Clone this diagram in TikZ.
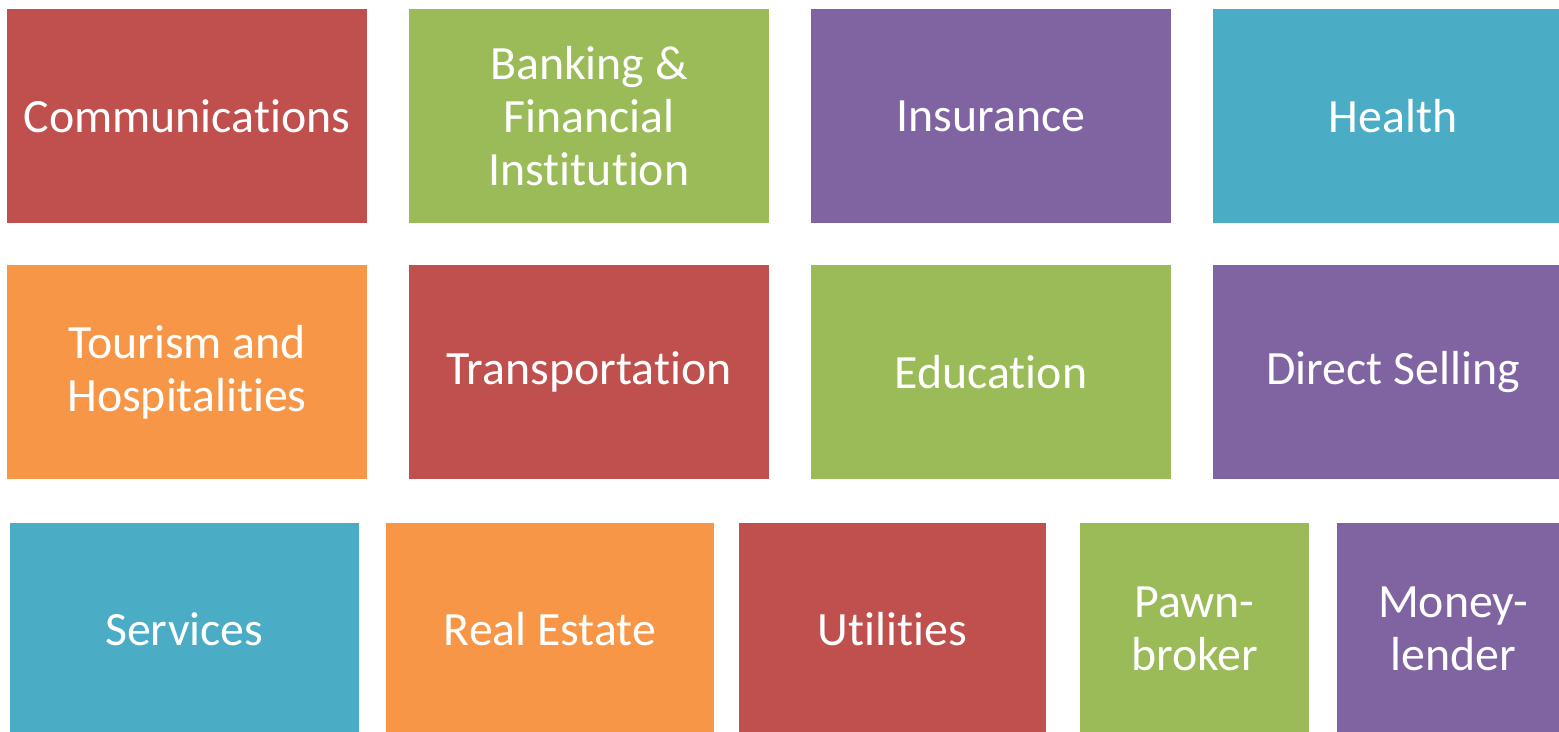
\documentclass[tikz,border=0pt]{standalone}
\usepackage{fontspec}
\setmainfont[Ligatures=NoCommon]{Carlito}
\definecolor{cRed}{HTML}{C0504D}
\definecolor{cGreen}{HTML}{9BBB59}
\definecolor{cPurple}{HTML}{8064A2}
\definecolor{cCyan}{HTML}{4BACC6}
\definecolor{cOrange}{HTML}{F79646}
\begin{document}
\begin{tikzpicture}[x=0.5pt,y=-0.5pt,
  tile/.style={inner sep=0pt, outer sep=0pt, draw=none, text=white, align=center,
    font=\fontsize{23.9}{26.3}\selectfont}]
\useasboundingbox (0,0) rectangle (1559,732);
\clip (0,0) rectangle (1559,732);
% row 1
\node[tile, fill=cRed, minimum width=180pt, minimum height=107pt] (comm) at (187,116) {Communications};
\node[tile, fill=cGreen, minimum width=180pt, minimum height=107pt] (bank) at (589,116) {Banking \&\\Financial\\Institution};
\node[tile, fill=cPurple, minimum width=180pt, minimum height=107pt] (ins) at (991,116) {Insurance};
\node[tile, fill=cCyan, minimum width=180pt, minimum height=107pt] (health) at (1393,116) {Health};
% row 2
\node[tile, fill=cOrange, minimum width=180pt, minimum height=107pt] (tour) at (187,372) {Tourism and\\Hospitalities};
\node[tile, fill=cRed, minimum width=180pt, minimum height=107pt] (trans) at (589,372) {Transportation};
\node[tile, fill=cGreen, minimum width=180pt, minimum height=107pt] (edu) at (991,372) {Education};
\node[tile, fill=cPurple, minimum width=180pt, minimum height=107pt] (direct) at (1393,372) {Direct Selling};
% row 3
\node[tile, fill=cCyan, minimum width=174.25pt, minimum height=106pt] (serv) at (184.25,629) {Services};
\node[tile, fill=cOrange, minimum width=164pt, minimum height=106pt] (real) at (550,629) {Real Estate};
\node[tile, fill=cRed, minimum width=153.5pt, minimum height=106pt] (util) at (892.5,629) {Utilities};
\node[tile, fill=cGreen, minimum width=114.5pt, minimum height=106pt] (pawn) at (1194.5,629) {Pawn-\\broker};
\node[tile, fill=cPurple, minimum width=116pt, minimum height=106pt] (money) at (1453,629) {Money-\\lender};
\end{tikzpicture}
\end{document}
